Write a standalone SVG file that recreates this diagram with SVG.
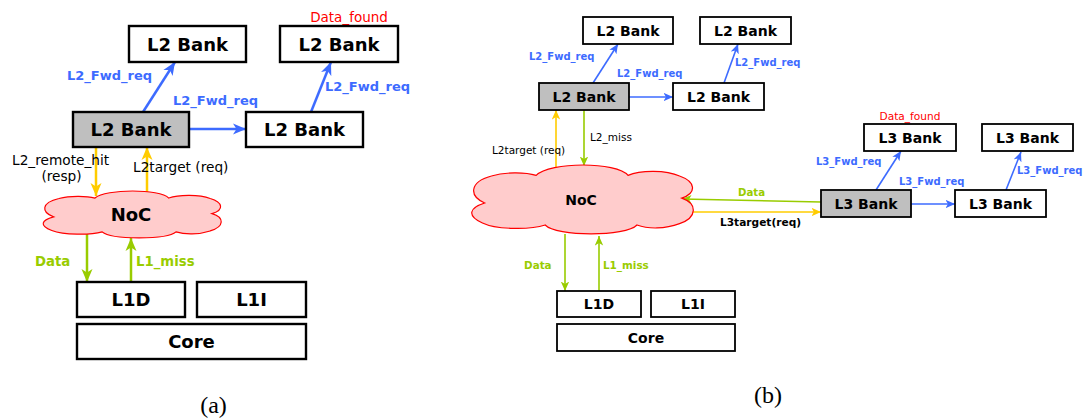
<svg xmlns="http://www.w3.org/2000/svg" width="1092" height="419" viewBox="0 0 1092 419">
  <style>
    .box { fill: #ffffff; stroke: #000000; }
    .hot { fill: #bfbfbf; }
    .ba { stroke-width: 2.4; }
    .bb { stroke-width: 1.8; }
    .t { font-family: "DejaVu Sans", sans-serif; font-weight: bold; fill: #000000; text-anchor: middle; }
    .ta { font-size: 18px; }
    .tb { font-size: 14px; }
    .lbl { font-family: "DejaVu Sans", sans-serif; }
    .blue { fill: #3d6bff; font-weight: bold; }
    .green { fill: #99cc00; font-weight: bold; }
    .red { fill: #ff0000; text-anchor: middle; }
    .cap { font-family: "Liberation Serif", serif; font-size: 24px; fill: #000000; text-anchor: middle; }
    .cloud { fill: #ffcccc; stroke: #ff0000; stroke-width: 1.2; }
    .wa { stroke-width: 2.5; fill: none; }
    .wb { stroke-width: 1.6; fill: none; }
    .cb { stroke: #3d6bff; }
    .cy { stroke: #ffcc00; }
    .cg { stroke: #99cc00; }
  </style>
  <defs>
    <!-- six-lobed cloud in a 200 x 100 box; stroke keeps its width when scaled -->
    <path id="cloudShape" vector-effect="non-scaling-stroke" d="M 14 55 C 0 45, 0 25, 20 16 C 32 10, 50 10, 60 15 C 72 -5, 132 -5, 142 15 C 152 8, 175 6, 188 16 C 202 24, 204 40, 190 48 C 204 56, 204 76, 188 85 C 175 93, 160 93, 150 87 C 140 104, 78 104, 68 87 C 55 94, 25 94, 12 84 C -2 74, 0 62, 14 55 Z"/>
    <marker id="ahBlueA" markerUnits="userSpaceOnUse" markerWidth="14" markerHeight="12" refX="13" refY="6" orient="auto" viewBox="0 0 14 12">
      <path d="M0,0.5 L13,6 L0,11.5 L3.5,6 Z" fill="#3d6bff"/>
    </marker>
    <marker id="ahYellowA" markerUnits="userSpaceOnUse" markerWidth="14" markerHeight="12" refX="13" refY="6" orient="auto" viewBox="0 0 14 12">
      <path d="M0,0.5 L13,6 L0,11.5 L3.5,6 Z" fill="#ffcc00"/>
    </marker>
    <marker id="ahGreenA" markerUnits="userSpaceOnUse" markerWidth="14" markerHeight="12" refX="13" refY="6" orient="auto" viewBox="0 0 14 12">
      <path d="M0,0.5 L13,6 L0,11.5 L3.5,6 Z" fill="#99cc00"/>
    </marker>
    <marker id="ahBlueB" markerUnits="userSpaceOnUse" markerWidth="10" markerHeight="9" refX="9.5" refY="4.5" orient="auto" viewBox="0 0 10 9">
      <path d="M0,0.3 L9.5,4.5 L0,8.7 L2.5,4.5 Z" fill="#3d6bff"/>
    </marker>
    <marker id="ahYellowB" markerUnits="userSpaceOnUse" markerWidth="10" markerHeight="9" refX="9.5" refY="4.5" orient="auto" viewBox="0 0 10 9">
      <path d="M0,0.3 L9.5,4.5 L0,8.7 L2.5,4.5 Z" fill="#ffcc00"/>
    </marker>
    <marker id="ahGreenB" markerUnits="userSpaceOnUse" markerWidth="10" markerHeight="9" refX="9.5" refY="4.5" orient="auto" viewBox="0 0 10 9">
      <path d="M0,0.3 L9.5,4.5 L0,8.7 L2.5,4.5 Z" fill="#99cc00"/>
    </marker>
  </defs>

  <!-- ===== Panel (a) ===== -->
  <g id="a-connectors">
    <line class="wa cb" x1="143" y1="112" x2="175" y2="62" marker-end="url(#ahBlueA)"/>
    <line class="wa cb" x1="311" y1="112" x2="331" y2="62" marker-end="url(#ahBlueA)"/>
    <line class="wa cb" x1="189" y1="129" x2="246" y2="129" marker-end="url(#ahBlueA)"/>
    <line class="wa cy" x1="96" y1="147" x2="96" y2="196" marker-end="url(#ahYellowA)"/>
    <line class="wa cy" x1="147" y1="192" x2="147" y2="147" marker-end="url(#ahYellowA)"/>
    <line class="wa cg" x1="87" y1="234" x2="87" y2="282" marker-end="url(#ahGreenA)"/>
    <line class="wa cg" x1="131" y1="282" x2="131" y2="238" marker-end="url(#ahGreenA)"/>
  </g>
  <g id="a-labels">
    <text class="lbl red" x="349" y="22" font-size="13.5">Data_found</text>
    <text class="lbl blue" x="67" y="80" font-size="13">L2_Fwd_req</text>
    <text class="lbl blue" x="173" y="105" font-size="13">L2_Fwd_req</text>
    <text class="lbl blue" x="325" y="91" font-size="13">L2_Fwd_req</text>
    <text class="lbl" x="12" y="165" font-size="13.7">L2_remote_hit</text>
    <text class="lbl" x="61.5" y="181" font-size="13.7" text-anchor="middle">(resp)</text>
    <text class="lbl" x="133" y="172" font-size="13.7">L2target (req)</text>
    <text class="lbl green" x="35" y="266" font-size="13.3">Data</text>
    <text class="lbl green" x="136" y="266" font-size="13.3">L1_miss</text>
  </g>
  <g id="a-l2-top1">
    <rect class="box ba" x="129" y="26" width="117" height="36"/>
    <text class="t ta" x="187.5" y="50.5">L2 Bank</text>
  </g>
  <g id="a-l2-top2">
    <rect class="box ba" x="280" y="26" width="118" height="36"/>
    <text class="t ta" x="339" y="50.5">L2 Bank</text>
  </g>
  <g id="a-l2-home">
    <rect class="box hot ba" x="73" y="112" width="116" height="35"/>
    <text class="t ta" x="131" y="136">L2 Bank</text>
  </g>
  <g id="a-l2-right">
    <rect class="box ba" x="246" y="112" width="117" height="35"/>
    <text class="t ta" x="304.5" y="136">L2 Bank</text>
  </g>
  <g id="a-noc">
    <use href="#cloudShape" class="cloud" transform="translate(41,191) scale(0.9,0.47)"/>
    <text class="t ta" x="131" y="221">NoC</text>
  </g>
  <g id="a-l1d">
    <rect class="box ba" x="77" y="282" width="108" height="35"/>
    <text class="t ta" x="131" y="306">L1D</text>
  </g>
  <g id="a-l1i">
    <rect class="box ba" x="197" y="282" width="109" height="35"/>
    <text class="t ta" x="251.5" y="306">L1I</text>
  </g>
  <g id="a-core">
    <rect class="box ba" x="77" y="324" width="229" height="35"/>
    <text class="t ta" x="191.5" y="348">Core</text>
  </g>
  <text class="cap" x="213.5" y="413">(a)</text>

  <!-- ===== Panel (b) ===== -->
  <g id="b-connectors">
    <line class="wb cb" x1="593" y1="83" x2="618" y2="44" marker-end="url(#ahBlueB)"/>
    <line class="wb cb" x1="724" y1="83" x2="738" y2="44" marker-end="url(#ahBlueB)"/>
    <line class="wb cb" x1="629" y1="97" x2="673" y2="97" marker-end="url(#ahBlueB)"/>
    <line class="wb cy" x1="556" y1="168" x2="556" y2="110" marker-end="url(#ahYellowB)"/>
    <line class="wb cg" x1="584" y1="110" x2="584" y2="166" marker-end="url(#ahGreenB)"/>
    <line class="wb cb" x1="876" y1="190" x2="901" y2="151" marker-end="url(#ahBlueB)"/>
    <line class="wb cb" x1="1006" y1="190" x2="1021" y2="152" marker-end="url(#ahBlueB)"/>
    <line class="wb cb" x1="911" y1="204" x2="955" y2="204" marker-end="url(#ahBlueB)"/>
    <line class="wb cg" x1="821" y1="202" x2="682" y2="199" marker-end="url(#ahGreenB)"/>
    <line class="wb cy" x1="693" y1="212" x2="821" y2="212" marker-end="url(#ahYellowB)"/>
    <line class="wb cg" x1="565" y1="234" x2="565" y2="291" marker-end="url(#ahGreenB)"/>
    <line class="wb cg" x1="599" y1="291" x2="599" y2="236" marker-end="url(#ahGreenB)"/>
  </g>
  <g id="b-labels">
    <text class="lbl blue" x="529" y="59.5" font-size="10">L2_Fwd_req</text>
    <text class="lbl blue" x="617" y="77" font-size="10">L2_Fwd_req</text>
    <text class="lbl blue" x="735" y="66" font-size="10">L2_Fwd_req</text>
    <text class="lbl" x="590" y="141" font-size="10.5">L2_miss</text>
    <text class="lbl" x="492" y="154" font-size="10.5">L2target (req)</text>
    <text class="lbl red" x="910" y="120" font-size="10.6">Data_found</text>
    <text class="lbl blue" x="816" y="165" font-size="10">L3_Fwd_req</text>
    <text class="lbl blue" x="899" y="185" font-size="10">L3_Fwd_req</text>
    <text class="lbl blue" x="1017" y="174" font-size="10">L3_Fwd_req</text>
    <text class="lbl green" x="738" y="196" font-size="10.2">Data</text>
    <text class="lbl" x="720" y="226" font-size="10.6" font-weight="bold">L3target(req)</text>
    <text class="lbl green" x="524" y="269" font-size="10.4">Data</text>
    <text class="lbl green" x="603" y="269" font-size="10.4">L1_miss</text>
  </g>
  <g id="b-l2-top1">
    <rect class="box bb" x="583" y="17" width="90" height="27"/>
    <text class="t tb" x="628" y="35.5">L2 Bank</text>
  </g>
  <g id="b-l2-top2">
    <rect class="box bb" x="700" y="17" width="91" height="27"/>
    <text class="t tb" x="745.5" y="35.5">L2 Bank</text>
  </g>
  <g id="b-l2-home">
    <rect class="box hot bb" x="539" y="83" width="90" height="27"/>
    <text class="t tb" x="584" y="101.5">L2 Bank</text>
  </g>
  <g id="b-l2-right">
    <rect class="box bb" x="673" y="83" width="91" height="27"/>
    <text class="t tb" x="718.5" y="101.5">L2 Bank</text>
  </g>
  <g id="b-l3-top1">
    <rect class="box bb" x="864" y="124" width="92" height="27"/>
    <text class="t tb" x="910" y="142.5">L3 Bank</text>
  </g>
  <g id="b-l3-top2">
    <rect class="box bb" x="982" y="124" width="91" height="27"/>
    <text class="t tb" x="1027.5" y="142.5">L3 Bank</text>
  </g>
  <g id="b-l3-home">
    <rect class="box hot bb" x="821" y="190" width="90" height="27"/>
    <text class="t tb" x="866" y="208.5">L3 Bank</text>
  </g>
  <g id="b-l3-right">
    <rect class="box bb" x="955" y="190" width="91" height="27"/>
    <text class="t tb" x="1000.5" y="208.5">L3 Bank</text>
  </g>
  <g id="b-noc">
    <use href="#cloudShape" class="cloud" transform="translate(469,165) scale(1.12,0.69)"/>
    <text class="t tb" x="581" y="205">NoC</text>
  </g>
  <g id="b-l1d">
    <rect class="box bb" x="557" y="291" width="84" height="26"/>
    <text class="t tb" x="599" y="309">L1D</text>
  </g>
  <g id="b-l1i">
    <rect class="box bb" x="651" y="291" width="84" height="26"/>
    <text class="t tb" x="693" y="309">L1I</text>
  </g>
  <g id="b-core">
    <rect class="box bb" x="557" y="324" width="178" height="27"/>
    <text class="t tb" x="646" y="342.5">Core</text>
  </g>
  <text class="cap" x="768" y="403">(b)</text>
</svg>
